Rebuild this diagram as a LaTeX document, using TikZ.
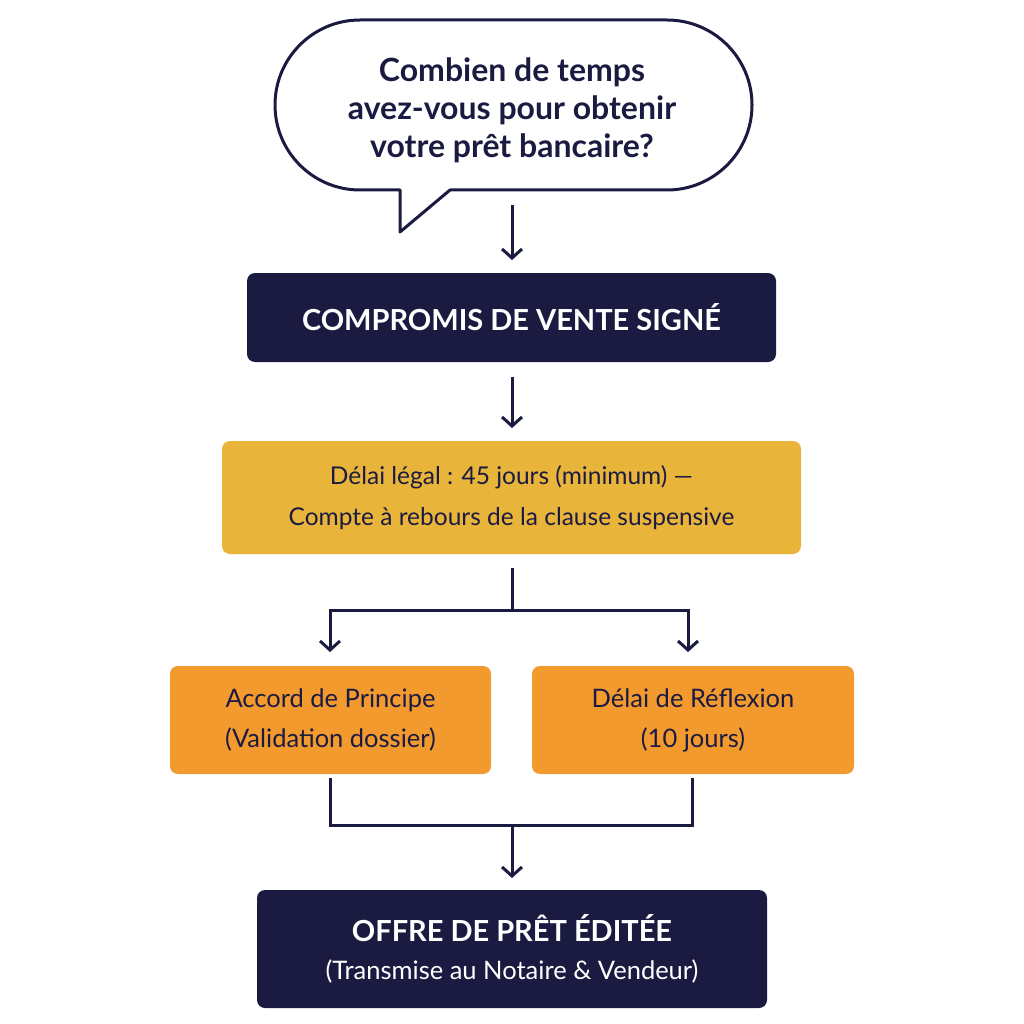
\documentclass[tikz,border=0pt]{standalone}
\usepackage{fontspec}
\setmainfont{Lato}
\usetikzlibrary{arrows.meta}
\definecolor{navy}{HTML}{1B1B42}
\definecolor{ybox}{HTML}{E9B43A}
\definecolor{obox}{HTML}{F39A2E}
\begin{document}
\begin{tikzpicture}[x=1pt,y=-1pt,
 ln/.style={draw=navy,line width=3pt},
 ar/.style={ln,-{Straight Barb[length=9pt,width=20pt,line width=3pt]}},
 box/.style={rounded corners=8pt},
 tx/.style={align=center,font=\fontsize{25.5}{40}\selectfont,text=navy}]
\useasboundingbox[fill=white] (0,0) rectangle (1024,1024);
% speech bubble
\draw[ln,fill=white,line join=round] (360,20) -- (667,20) arc[start angle=-90,end angle=90,radius=85] -- (450,190) -- (400,232) -- (400,190) -- (360,190) arc[start angle=90,end angle=270,radius=85] -- cycle;
\node[tx,font=\fontsize{32}{38}\selectfont\bfseries] (q) at (512,110) {Combien de temps\\avez-vous pour obtenir\\votre prêt bancaire?};
\node[box,fill=navy,minimum width=529pt,minimum height=89pt] (c) at (511.5,317.5) {};
\node[text=white,font=\fontsize{29}{32}\selectfont\bfseries] (ct) at (c) {COMPROMIS DE VENTE SIGNÉ};
\node[box,fill=ybox,minimum width=579pt,minimum height=113pt] (d) at (511.5,497.5) {};
\node[tx,font=\fontsize{24.5}{41}\selectfont] (dt) at (d) {Délai légal : 45 jours (minimum) —\\Compte à rebours de la clause suspensive};
\node[box,fill=obox,minimum width=321pt,minimum height=108pt] (a) at (330.5,720) {};
\node[tx] (at) at (a) {Accord de Principe\\(Validation dossier)};
\node[box,fill=obox,minimum width=322pt,minimum height=108pt] (r) at (693,720) {};
\node[tx] (rt) at (r) {Délai de Réflexion\\(10 jours)};
\node[box,fill=navy,minimum width=510pt,minimum height=118pt] (o) at (512,949) {};
\node[align=center,text=white,font=\fontsize{29}{38}\selectfont] (ot) at (o) {\textbf{OFFRE DE PRÊT ÉDITÉE}\\{\fontsize{25.5}{30}\selectfont(Transmise au Notaire \& Vendeur)}};
\coordinate (q1) at (512,205);
\coordinate (c1) at (512,260);
\coordinate (c2) at (512,377);
\coordinate (d1) at (512,428);
\coordinate (d2) at (512,568);
\coordinate (s) at (512,610);
\coordinate (a1) at (330,652);
\coordinate (r1) at (688,652);
\coordinate (a2) at (330,778);
\coordinate (r2) at (692,778);
\coordinate (m) at (512,825);
\coordinate (o1) at (512,878);
\draw[ar] (q1) -- (c1);
\draw[ar] (c2) -- (d1);
\draw[ln] (d2) -- (s);
\draw[ar] (s) -| (a1);
\draw[ar] (s) -| (r1);
\draw[ln] (a2) |- (m) -| (r2);
\draw[ar] (m) -- (o1);
\end{tikzpicture}
\end{document}
